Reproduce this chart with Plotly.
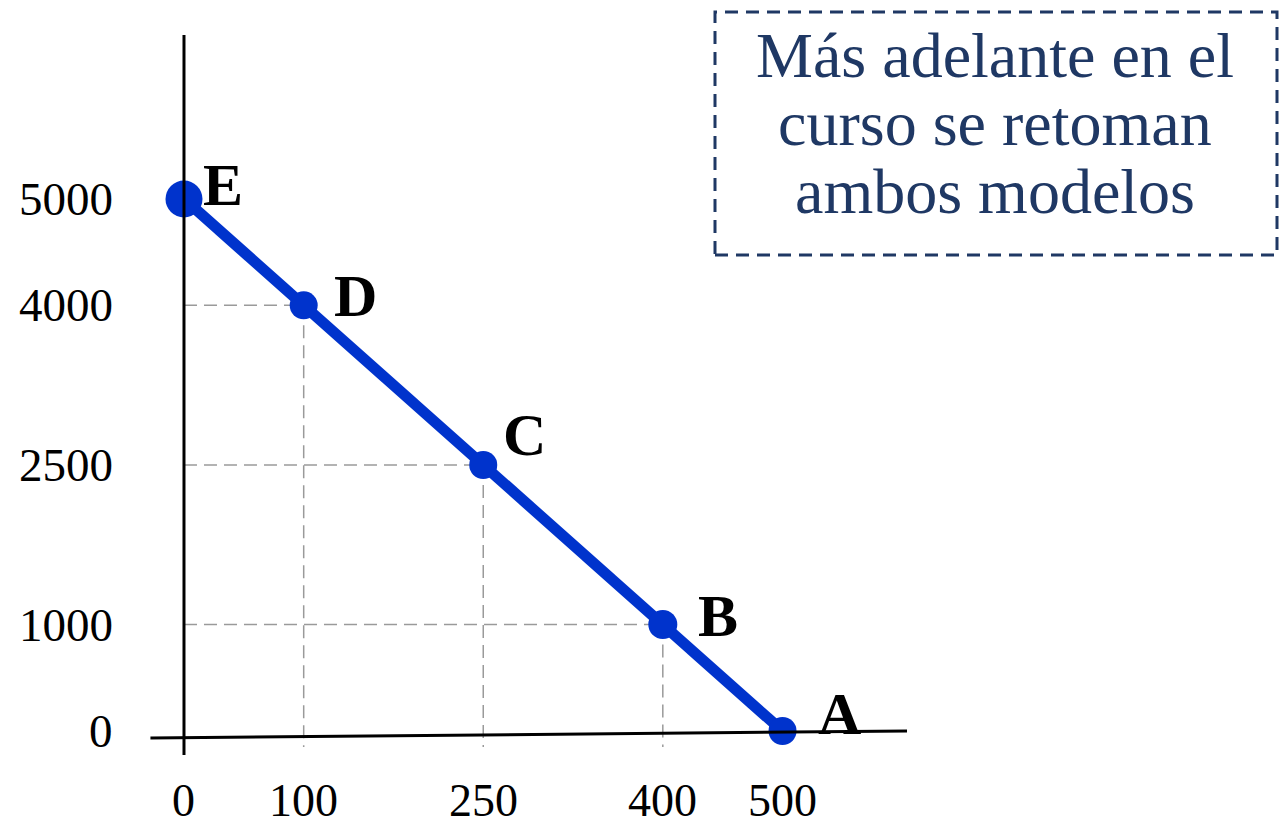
import plotly.graph_objects as go

# ---- data ----
point_labels = ["A", "B", "C", "D", "E"]
x_vals = [500, 400, 250, 100, 0]
y_vals = [0, 1000, 2500, 4000, 5000]
guide_points = ["B", "C", "D"]
x_tick_vals = [0, 100, 250, 400, 500]
x_tick_text = ["0", "100", "250", "400", "500"]
y_tick_vals = [0, 1000, 2500, 4000, 5000]
y_tick_text = ["0", "1000", "2500", "4000", "5000"]
note_lines = ["Más adelante en el", "curso se retoman", "ambos modelos"]

W, H = 1286, 831
X_RANGE = [-153.7, 920.6]
Y_RANGE = [-940, 6870]
FONT = "Liberation Serif, Times New Roman, serif"
BLUE = "#0033cc"
NAVY = "#1f3864"
GRID = "#9a9a9a"

fig = go.Figure()

# dashed guide lines
for lab in guide_points:
    i = point_labels.index(lab)
    fig.add_trace(go.Scatter(x=[0, x_vals[i]], y=[y_vals[i], y_vals[i]], mode="lines",
                             line=dict(color=GRID, width=1.5, dash="13px,7px"), hoverinfo="skip"))
    fig.add_trace(go.Scatter(x=[x_vals[i], x_vals[i]], y=[y_vals[i], -150], mode="lines",
                             line=dict(color=GRID, width=1.5, dash="13px,7px"), hoverinfo="skip"))

# axes lines
fig.add_shape(type="line", x0=0, x1=0, y0=-225, y1=6541, line=dict(color="black", width=3))
fig.add_shape(type="line", x0=-28, x1=604, y0=-66, y1=0, line=dict(color="black", width=3))

# frontier
fig.add_trace(go.Scatter(x=x_vals, y=y_vals, mode="lines",
                         line=dict(color=BLUE, width=11), hoverinfo="skip"))
fig.add_trace(go.Scatter(x=x_vals, y=y_vals, mode="markers",
                         marker=dict(color=BLUE, size=[28, 29, 28, 28, 37], opacity=1,
                                     line=dict(width=0)),
                         hoverinfo="skip"))

# point labels
shifts = {"A": (57, 17), "B": (55, 9), "C": (41, 30), "D": (52, 9), "E": (39, 14)}
for lab, xv, yv in zip(point_labels, x_vals, y_vals):
    dx, dy = shifts[lab]
    fig.add_annotation(x=xv, y=yv, text=f"<b>{lab}</b>", showarrow=False,
                       xshift=dx, yshift=dy, font=dict(family=FONT, size=60, color="black"))

# tick labels
for v, t in zip(x_tick_vals, x_tick_text):
    fig.add_annotation(x=v, y=-655, text=t, showarrow=False,
                       font=dict(family=FONT, size=46, color="black"))
for v, t in zip(y_tick_vals, y_tick_text):
    fig.add_annotation(x=-58, y=v, text=t, showarrow=False, xanchor="right",
                       font=dict(family=FONT, size=47, color="black"))

# note box
fig.add_shape(type="rect", xref="paper", yref="paper",
              x0=715 / W, x1=1277 / W, y0=1 - 255 / H, y1=1 - 12 / H,
              line=dict(color=NAVY, width=3, dash="13px,8px"))
for k, line in enumerate(note_lines):
    fig.add_annotation(xref="paper", yref="paper", x=995 / W, y=1 - (56 + 68 * k) / H,
                       text=line, showarrow=False, xanchor="center", yanchor="middle",
                       font=dict(family=FONT, size=64, color=NAVY))

fig.update_layout(width=W, height=H, autosize=False, showlegend=False,
                  margin=dict(l=0, r=0, t=0, b=0),
                  paper_bgcolor="white", plot_bgcolor="white",
                  xaxis=dict(range=X_RANGE, visible=False, fixedrange=True),
                  yaxis=dict(range=Y_RANGE, visible=False, fixedrange=True))

fig.write_html("out.html", config={"displayModeBar": False},
               post_script="document.body.style.margin='0';document.body.style.overflow='hidden';")
